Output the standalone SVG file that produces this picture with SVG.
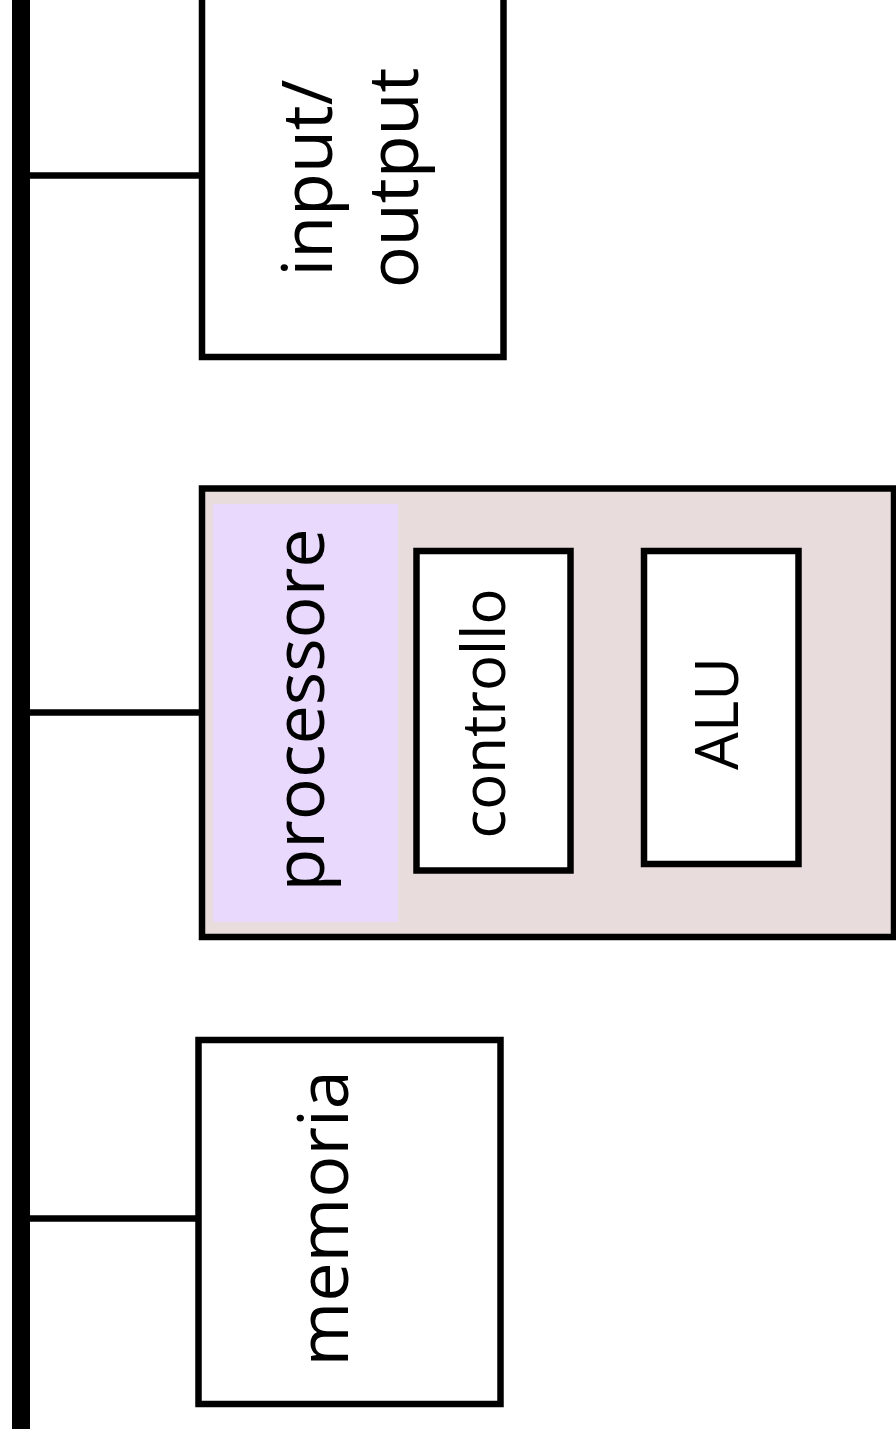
<svg xmlns="http://www.w3.org/2000/svg" width="896" height="1438" viewBox="0 0 896 1438">
  <style>
    .box { fill: #ffffff; stroke: #000000; stroke-width: 6.5; }
    .cpu { fill: #e8dcdc; stroke: #000000; stroke-width: 6.5; }
    .tab { fill: #e9dafd; stroke: none; }
    .lbl { font-family: "Open Sans", "Noto Sans", sans-serif; fill: #000000; text-anchor: middle; }
    .stub { stroke: #000000; stroke-width: 6.5; fill: none; }
    .bus { stroke: #000000; stroke-width: 18; fill: none; }
  </style>
  <rect width="896" height="1438" fill="#ffffff"/>

  <!-- system bus and its branches -->
  <g id="connectors">
    <line class="bus" x1="21" y1="0" x2="21" y2="1429"/>
    <line class="stub" x1="30" y1="175.5" x2="202" y2="175.5"/>
    <line class="stub" x1="30" y1="712.5" x2="202" y2="712.5"/>
    <line class="stub" x1="30" y1="1218.5" x2="199" y2="1218.5"/>
  </g>

  <g id="io">
    <rect class="box" x="202" y="-20" width="301.5" height="377"/>
    <text class="lbl" font-size="70" transform="translate(332,178) rotate(-90)">input/</text>
    <text class="lbl" font-size="70" transform="translate(418,178) rotate(-90)">output</text>
  </g>

  <g id="processore">
    <rect class="cpu" x="202" y="488.5" width="692" height="448.5"/>
    <rect class="tab" x="213" y="504" width="185" height="418"/>
    <text class="lbl" font-size="70" transform="translate(324,710) rotate(-90)">processore</text>
  </g>

  <g id="controllo">
    <rect class="box" x="416.5" y="551" width="154" height="319.5"/>
    <text class="lbl" font-size="60" transform="translate(505,713.5) rotate(-90)">controllo</text>
  </g>

  <g id="alu">
    <rect class="box" x="644" y="551" width="154.5" height="313"/>
    <text class="lbl" font-size="60" transform="translate(738,713.5) rotate(-90)">ALU</text>
  </g>

  <g id="memoria">
    <rect class="box" x="198.5" y="1040" width="302" height="364"/>
    <text class="lbl" font-size="70" transform="translate(348,1218.5) rotate(-90)">memoria</text>
  </g>
</svg>
